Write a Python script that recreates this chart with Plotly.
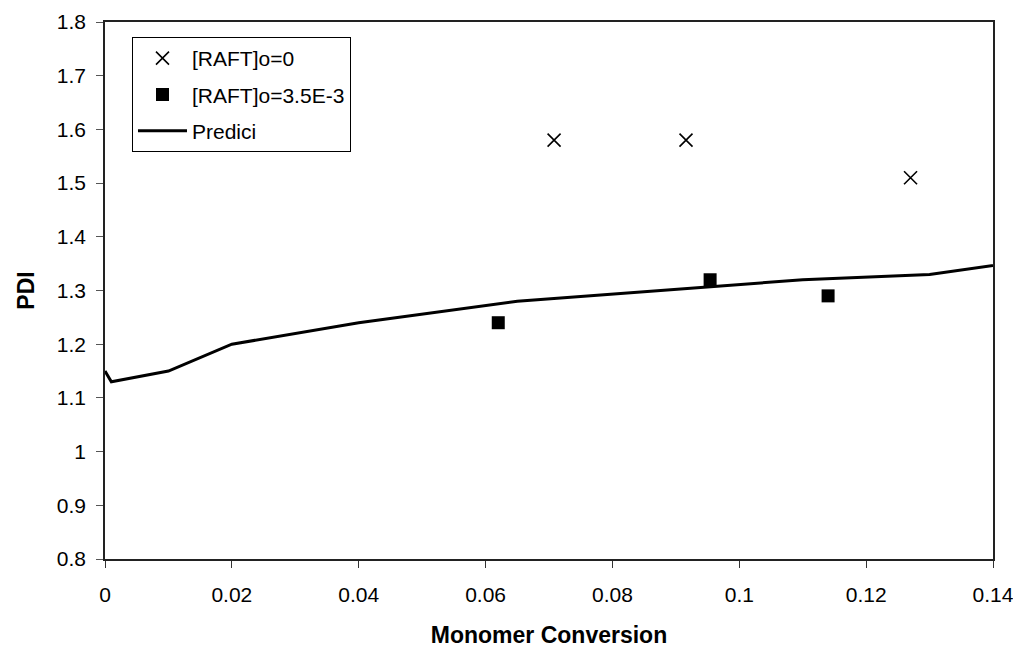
import plotly.graph_objects as go

# Data
raft0_x = [0.0708, 0.0916, 0.127]
raft0_y = [1.58, 1.58, 1.51]

raft35_x = [0.062, 0.0954, 0.114]
raft35_y = [1.24, 1.32, 1.29]

predici_x = [0.0, 0.001, 0.01, 0.02, 0.04, 0.065, 0.11, 0.13, 0.145]
predici_y = [1.15, 1.13, 1.15, 1.20, 1.24, 1.28, 1.32, 1.33, 1.355]

x_ticks = [0, 0.02, 0.04, 0.06, 0.08, 0.1, 0.12, 0.14]
y_ticks = [0.8, 0.9, 1, 1.1, 1.2, 1.3, 1.4, 1.5, 1.6, 1.7, 1.8]

FONT = "Liberation Sans, Arial, sans-serif"

fig = go.Figure()
fig.add_trace(go.Scatter(
    x=raft0_x, y=raft0_y, mode="markers", name="[RAFT]o=0", legendgroup="a",
    marker=dict(symbol="x-thin", size=13, line=dict(color="black", width=1.6), color="black"),
))
fig.add_trace(go.Scatter(
    x=raft35_x, y=raft35_y, mode="markers", name="[RAFT]o=3.5E-3", legendgroup="b",
    marker=dict(symbol="square", size=13, color="black"),
))
fig.add_trace(go.Scatter(
    x=predici_x, y=predici_y, mode="lines", name="Predici", legendgroup="c",
    line=dict(color="black", width=3),
))

fig.update_layout(
    width=1013, height=640,
    margin=dict(l=97, r=28, t=14, b=89, autoexpand=False),
    paper_bgcolor="white", plot_bgcolor="white",
    font=dict(family=FONT, color="black", size=21),
    showlegend=True,
    legend=dict(
        x=0.0304, y=0.972, xanchor="left", yanchor="top",
        bordercolor="black", borderwidth=1, bgcolor="white",
        font=dict(size=21, family=FONT),
        itemwidth=49, tracegroupgap=6,
    ),
    xaxis=dict(
        range=[0, 0.14], tickvals=x_ticks,
        showgrid=False, zeroline=False, automargin=False,
        showline=True, linecolor="#222", linewidth=1.5, mirror=True,
        ticks="outside", ticklen=7, tickcolor="#333",
        tickfont=dict(size=21),
        ticklabelstandoff=9,
        title=dict(text="<b>Monomer Conversion</b>", font=dict(size=23), standoff=23),
    ),
    yaxis=dict(
        range=[0.8, 1.8], tickvals=y_ticks,
        showgrid=False, zeroline=False, automargin=False,
        showline=True, linecolor="#222", linewidth=1.5, mirror=True,
        ticks="outside", ticklen=7, tickcolor="#555",
        tickfont=dict(size=21),
        ticklabelstandoff=6,
        title=dict(text="<b>PDI</b>", font=dict(size=23), standoff=16),
    ),
)

fig.write_html("out.html")
